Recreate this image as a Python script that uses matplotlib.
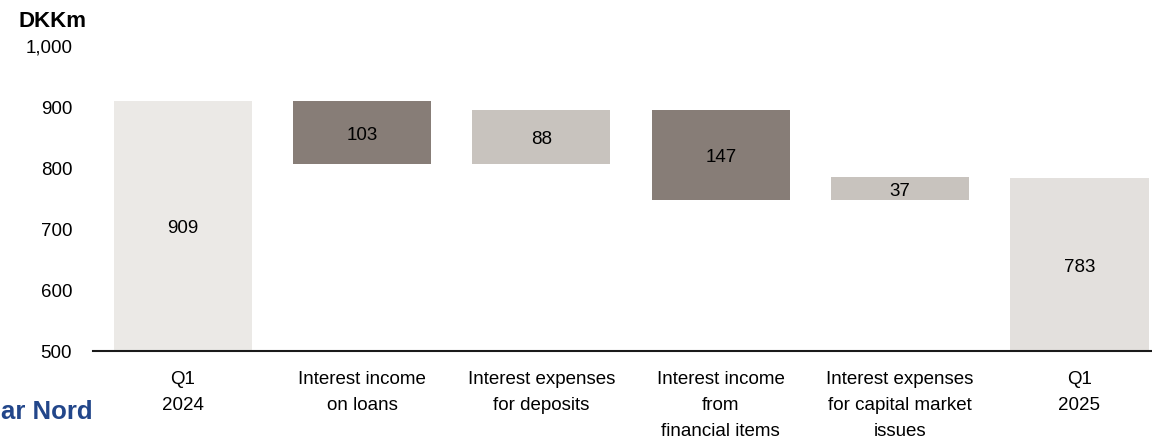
import matplotlib.pyplot as plt

# ---- data (DKKm) ----
categories = [
    "Q1\n2024",
    "Interest income\non loans",
    "Interest expenses\nfor deposits",
    "Interest income\nfrom\nfinancial items",
    "Interest expenses\nfor capital market\nissues",
    "Q1\n2025",
]
start_value = 909
changes = [-103, 88, -147, 37]
end_value = 783

DARK = "#877d77"
MID = "#c8c3be"
START_COL = "#ebe9e6"
END_COL = "#e3e0dd"

plt.rcParams["font.family"] = ["Liberation Sans", "DejaVu Sans"]

fig = plt.figure(figsize=(11.52, 4.39), dpi=100)
ax = fig.add_axes([93 / 1152, 87 / 439, 1 - 93 / 1152, (352 - 46) / 439])

width = 0.77
base = 500
fs = 13.5

# opening total
ax.bar(0, start_value - base, bottom=base, width=width, color=START_COL)
ax.text(0, (start_value + base) / 2, f"{start_value}", ha="center", va="center_baseline", fontsize=fs)

# floating steps
level = start_value
for i, d in enumerate(changes, start=1):
    lo = min(level, level + d)
    col = DARK if d < 0 else MID
    ax.bar(i, abs(d), bottom=lo, width=width, color=col)
    ax.text(i, lo + abs(d) / 2, f"{abs(d)}", ha="center", va="center_baseline", fontsize=fs)
    level += d

# closing total
n = len(categories) - 1
ax.bar(n, end_value - base, bottom=base, width=width, color=END_COL)
ax.text(n, (end_value + base) / 2, f"{end_value}", ha="center", va="center_baseline", fontsize=fs)

ax.set_ylim(500, 1000)
ax.set_xlim(-0.5, (1152 - 183) / 179.3)
ax.set_yticks([500, 600, 700, 800, 900, 1000])
ax.set_yticklabels(["500", "600", "700", "800", "900", "1,000"])
ax.set_xticks(range(len(categories)))
ax.set_xticklabels(categories, linespacing=1.68, va="top")
ax.tick_params(axis="both", length=0, labelsize=fs)
ax.tick_params(axis="y", pad=15)
ax.tick_params(axis="x", pad=14)

for s in ["top", "right", "left"]:
    ax.spines[s].set_visible(False)
ax.spines["bottom"].set_linewidth(1.5)
ax.spines["bottom"].set_color("#1a1a1a")

fig.text(18 / 1152, 1 - 27 / 439, "DKKm", fontsize=16, fontweight="bold", ha="left", va="baseline")
fig.text(1 / 1152, 1 - 419 / 439, "ar Nord", fontsize=18.5, fontweight="bold",
         color="#22468a", ha="left", va="baseline")

fig.savefig("out.png", dpi=100)
